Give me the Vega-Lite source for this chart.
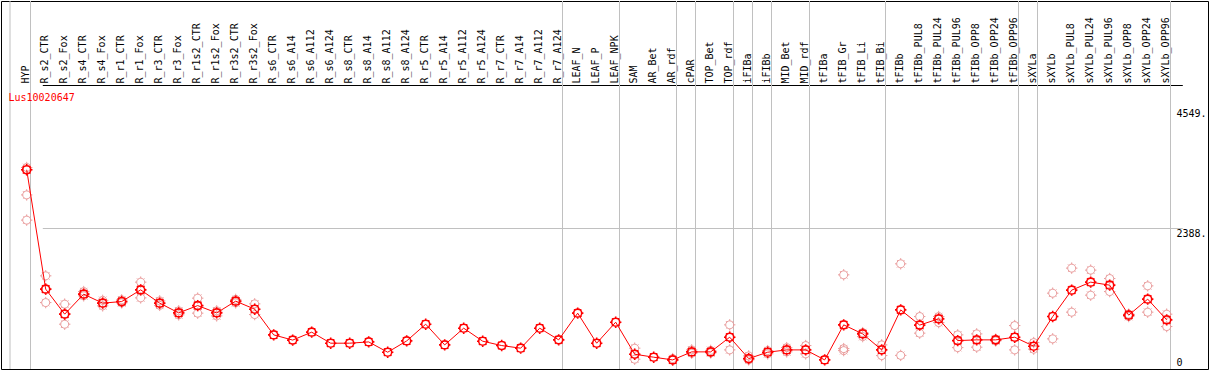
{
  "$schema": "https://vega.github.io/schema/vega-lite/v6.json",
  "width": 1207,
  "height": 368,
  "autosize": {"type": "none"},
  "padding": {"left": 1, "top": 1, "right": 1, "bottom": 1},
  "background": "white",
  "title": {"text": "Lus10020647", "anchor": "start", "frame": "group", "orient": "top", "offset": -110, "baseline": "alphabetic", "dx": 7.5, "color": "#ff0000", "font": "DejaVu Sans Mono", "fontSize": 10, "fontWeight": "normal"},
  "config": {
    "view": {"stroke": "#000000", "strokeWidth": 1},
    "font": "DejaVu Sans Mono"
  },
  "datasets": {
    "means": [
      {"cond": "HYP", "value": 3440}, {"cond": "R_s2_CTR", "value": 1285}, {"cond": "R_s2_Fox", "value": 833},
      {"cond": "R_s4_CTR", "value": 1194}, {"cond": "R_s4_Fox", "value": 1032}, {"cond": "R_r1_CTR", "value": 1061},
      {"cond": "R_r1_Fox", "value": 1272}, {"cond": "R_r3_CTR", "value": 1032}, {"cond": "R_r3_Fox", "value": 856},
      {"cond": "R_r1s2_CTR", "value": 988}, {"cond": "R_r1s2_Fox", "value": 856}, {"cond": "R_r3s2_CTR", "value": 1068},
      {"cond": "R_r3s2_Fox", "value": 923}, {"cond": "R_s6_CTR", "value": 459}, {"cond": "R_s6_A14", "value": 365},
      {"cond": "R_s6_A112", "value": 508}, {"cond": "R_s6_A124", "value": 309}, {"cond": "R_s8_CTR", "value": 309},
      {"cond": "R_s8_A14", "value": 332}, {"cond": "R_s8_A112", "value": 146}, {"cond": "R_s8_A124", "value": 350},
      {"cond": "R_r5_CTR", "value": 652}, {"cond": "R_r5_A14", "value": 278}, {"cond": "R_r5_A112", "value": 580},
      {"cond": "R_r5_A124", "value": 345}, {"cond": "R_r7_CTR", "value": 266}, {"cond": "R_r7_A14", "value": 219},
      {"cond": "R_r7_A112", "value": 580}, {"cond": "R_r7_A124", "value": 369}, {"cond": "LEAF_N", "value": 851},
      {"cond": "LEAF_P", "value": 309}, {"cond": "LEAF_NPK", "value": 688}, {"cond": "SAM", "value": 110},
      {"cond": "AR_Bet", "value": 56}, {"cond": "AR_rdf", "value": 7}, {"cond": "cPAR", "value": 152},
      {"cond": "TOP_Bet", "value": 152}, {"cond": "TOP_rdf", "value": 417}, {"cond": "iFIBa", "value": 31},
      {"cond": "iFIBb", "value": 146}, {"cond": "MID_Bet", "value": 188}, {"cond": "MID_rdf", "value": 188},
      {"cond": "tFIBa", "value": 7}, {"cond": "tFIB_Gr", "value": 640}, {"cond": "tFIB_Li", "value": 477},
      {"cond": "tFIB_Bi", "value": 188}, {"cond": "tFIBb", "value": 911}, {"cond": "tFIBb_PUL8", "value": 636},
      {"cond": "tFIBb_PUL24", "value": 748}, {"cond": "tFIBb_PUL96", "value": 356}, {"cond": "tFIBb_OPP8", "value": 369},
      {"cond": "tFIBb_OPP24", "value": 369}, {"cond": "tFIBb_OPP96", "value": 417}, {"cond": "sXYLa", "value": 255},
      {"cond": "sXYLb", "value": 790}, {"cond": "sXYLb_PUL8", "value": 1267}, {"cond": "sXYLb_PUL24", "value": 1411},
      {"cond": "sXYLb_PUL96", "value": 1357}, {"cond": "sXYLb_OPP8", "value": 815}, {"cond": "sXYLb_OPP24", "value": 1104},
      {"cond": "sXYLb_OPP96", "value": 730}
    ],
    "reps": [
      {"cond": "HYP", "value": 3481}, {"cond": "HYP", "value": 3440}, {"cond": "HYP", "value": 2986}, {"cond": "HYP", "value": 2531},
      {"cond": "R_s2_CTR", "value": 1525}, {"cond": "R_s2_CTR", "value": 1042}, {"cond": "R_s2_CTR", "value": 1285},
      {"cond": "R_s2_Fox", "value": 1014}, {"cond": "R_s2_Fox", "value": 652}, {"cond": "R_s2_Fox", "value": 838},
      {"cond": "R_s4_CTR", "value": 1241}, {"cond": "R_s4_CTR", "value": 1164}, {"cond": "R_s4_CTR", "value": 1200},
      {"cond": "R_s4_Fox", "value": 1082}, {"cond": "R_s4_Fox", "value": 983}, {"cond": "R_s4_Fox", "value": 1037},
      {"cond": "R_r1_CTR", "value": 1091}, {"cond": "R_r1_CTR", "value": 1037}, {"cond": "R_r1_CTR", "value": 1055},
      {"cond": "R_r1_Fox", "value": 1411}, {"cond": "R_r1_Fox", "value": 1127}, {"cond": "R_r1_Fox", "value": 1272},
      {"cond": "R_r3_CTR", "value": 1073}, {"cond": "R_r3_CTR", "value": 992}, {"cond": "R_r3_CTR", "value": 1028},
      {"cond": "R_r3_Fox", "value": 893}, {"cond": "R_r3_Fox", "value": 820}, {"cond": "R_r3_Fox", "value": 856},
      {"cond": "R_r1s2_CTR", "value": 1122}, {"cond": "R_r1s2_CTR", "value": 851}, {"cond": "R_r1s2_CTR", "value": 988},
      {"cond": "R_r1s2_Fox", "value": 893}, {"cond": "R_r1s2_Fox", "value": 802}, {"cond": "R_r1s2_Fox", "value": 865},
      {"cond": "R_r3s2_CTR", "value": 1100}, {"cond": "R_r3s2_CTR", "value": 1037}, {"cond": "R_r3s2_CTR", "value": 1068},
      {"cond": "R_r3s2_Fox", "value": 1019}, {"cond": "R_r3s2_Fox", "value": 826}, {"cond": "R_r3s2_Fox", "value": 923},
      {"cond": "SAM", "value": 219}, {"cond": "SAM", "value": 20}, {"cond": "SAM", "value": 110},
      {"cond": "AR_rdf", "value": 31}, {"cond": "AR_rdf", "value": 0},
      {"cond": "cPAR", "value": 188}, {"cond": "cPAR", "value": 128},
      {"cond": "TOP_Bet", "value": 179}, {"cond": "TOP_Bet", "value": 134},
      {"cond": "TOP_rdf", "value": 640}, {"cond": "TOP_rdf", "value": 188}, {"cond": "TOP_rdf", "value": 417},
      {"cond": "iFIBa", "value": 79}, {"cond": "iFIBa", "value": 7},
      {"cond": "iFIBb", "value": 175}, {"cond": "iFIBb", "value": 116},
      {"cond": "MID_Bet", "value": 229}, {"cond": "MID_Bet", "value": 152},
      {"cond": "MID_rdf", "value": 266}, {"cond": "MID_rdf", "value": 116},
      {"cond": "tFIB_Gr", "value": 1543}, {"cond": "tFIB_Gr", "value": 211}, {"cond": "tFIB_Gr", "value": 175},
      {"cond": "tFIB_Li", "value": 500}, {"cond": "tFIB_Li", "value": 428},
      {"cond": "tFIB_Bi", "value": 278}, {"cond": "tFIB_Bi", "value": 85},
      {"cond": "tFIBb", "value": 1742}, {"cond": "tFIBb", "value": 89},
      {"cond": "tFIBb_PUL8", "value": 790}, {"cond": "tFIBb_PUL8", "value": 490},
      {"cond": "tFIBb_PUL24", "value": 790}, {"cond": "tFIBb_PUL24", "value": 681},
      {"cond": "tFIBb_PUL96", "value": 459}, {"cond": "tFIBb_PUL96", "value": 229},
      {"cond": "tFIBb_OPP8", "value": 477}, {"cond": "tFIBb_OPP8", "value": 237},
      {"cond": "tFIBb_OPP24", "value": 381}, {"cond": "tFIBb_OPP24", "value": 350},
      {"cond": "tFIBb_OPP96", "value": 627}, {"cond": "tFIBb_OPP96", "value": 188},
      {"cond": "sXYLa", "value": 320}, {"cond": "sXYLa", "value": 201},
      {"cond": "sXYLb", "value": 1212}, {"cond": "sXYLb", "value": 387},
      {"cond": "sXYLb_PUL8", "value": 1664}, {"cond": "sXYLb_PUL8", "value": 869},
      {"cond": "sXYLb_PUL24", "value": 1628}, {"cond": "sXYLb_PUL24", "value": 1176},
      {"cond": "sXYLb_PUL96", "value": 1476}, {"cond": "sXYLb_PUL96", "value": 1241},
      {"cond": "sXYLb_OPP8", "value": 833}, {"cond": "sXYLb_OPP8", "value": 790},
      {"cond": "sXYLb_OPP24", "value": 1344}, {"cond": "sXYLb_OPP24", "value": 869},
      {"cond": "sXYLb_OPP96", "value": 833}, {"cond": "sXYLb_OPP96", "value": 609}
    ]
  },
  "encoding": {
    "x": {
      "field": "cond",
      "type": "nominal",
      "scale": {
        "type": "point",
        "padding": 0,
        "range": [25.7, 1165.7],
        "domain": ["HYP", "R_s2_CTR", "R_s2_Fox", "R_s4_CTR", "R_s4_Fox", "R_r1_CTR", "R_r1_Fox", "R_r3_CTR", "R_r3_Fox", "R_r1s2_CTR", "R_r1s2_Fox", "R_r3s2_CTR", "R_r3s2_Fox", "R_s6_CTR", "R_s6_A14", "R_s6_A112", "R_s6_A124", "R_s8_CTR", "R_s8_A14", "R_s8_A112", "R_s8_A124", "R_r5_CTR", "R_r5_A14", "R_r5_A112", "R_r5_A124", "R_r7_CTR", "R_r7_A14", "R_r7_A112", "R_r7_A124", "LEAF_N", "LEAF_P", "LEAF_NPK", "SAM", "AR_Bet", "AR_rdf", "cPAR", "TOP_Bet", "TOP_rdf", "iFIBa", "iFIBb", "MID_Bet", "MID_rdf", "tFIBa", "tFIB_Gr", "tFIB_Li", "tFIB_Bi", "tFIBb", "tFIBb_PUL8", "tFIBb_PUL24", "tFIBb_PUL96", "tFIBb_OPP8", "tFIBb_OPP24", "tFIBb_OPP96", "sXYLa", "sXYLb", "sXYLb_PUL8", "sXYLb_PUL24", "sXYLb_PUL96", "sXYLb_OPP8", "sXYLb_OPP24", "sXYLb_OPP96"]
      },
      "axis": {
        "orient": "top",
        "title": null,
        "domain": false,
        "ticks": false,
        "tickSize": 0,
        "grid": false,
        "labelAngle": 270,
        "labelAlign": "left",
        "labelBaseline": "middle",
        "labelPadding": -82,
        "labelOffset": -1.5,
        "labelOverlap": false,
        "labelBound": false,
        "labelFlush": false,
        "labelFont": "DejaVu Sans Mono",
        "labelFontSize": 10,
        "labelColor": "#000000"
      }
    }
  },
  "layer": [
    {
      "data": {"values": [
        {"cond": "HYP"}, {"cond": "R_r7_A124"}, {"cond": "LEAF_NPK"}, {"cond": "AR_rdf"}, {"cond": "cPAR"},
        {"cond": "TOP_rdf"}, {"cond": "iFIBa"}, {"cond": "iFIBb"}, {"cond": "MID_rdf"}, {"cond": "tFIB_Bi"},
        {"cond": "tFIBb_OPP96"}, {"cond": "sXYLa"}, {"cond": "sXYLb_OPP96"}
      ]},
      "mark": {"type": "rule", "color": "#c0c0c0", "strokeWidth": 1, "xOffset": 3.8}
    },
    {
      "data": {"values": [{"cond": "HYP"}]},
      "mark": {"type": "rule", "color": "#c0c0c0", "strokeWidth": 1, "xOffset": -16.7}
    },
    {
      "encoding": {
        "y": {
          "field": "value",
          "type": "quantitative",
          "scale": {"domain": [-157, 6487], "nice": false, "zero": false},
          "axis": {
            "orient": "right",
            "title": null,
            "values": [0, 2388, 4549, 4970],
            "domain": false,
            "ticks": false,
            "tickSize": 0,
            "grid": true,
            "gridColor": {"condition": {"test": "datum.value == 4970", "value": "#000000"}, "value": "#c0c0c0"},
            "gridOpacity": {"condition": {"test": "datum.value == 0 || datum.value == 4549", "value": 0}, "value": 1},
            "gridWidth": 1,
            "labelExpr": "datum.value == 4970 ? '' : (datum.value == 0 ? '0' : datum.value + '.')",
            "labelAlign": "left",
            "labelBaseline": {"condition": {"test": "datum.value == 0", "value": "middle"}, "value": "top"},
            "labelOffset": {"condition": {"test": "datum.value == 0", "value": 2.5}, "value": 0},
            "labelPadding": -32,
            "labelOverlap": false,
            "labelBound": false,
            "labelFlush": false,
            "labelFont": "DejaVu Sans Mono",
            "labelFontSize": 10,
            "labelColor": "#000000"
          }
        }
      },
      "layer": [
        {
          "data": {"name": "reps"},
          "mark": {"type": "point", "filled": false, "shape": "M0.667,0A0.667,0.667,0,1,1,-0.667,0A0.667,0.667,0,1,1,0.667,0M0,-0.667L0,-0.95M0,0.667L0,0.95M-0.667,0L-0.95,0M0.667,0L0.95,0M0.47,0.47L0.62,0.62M-0.47,0.47L-0.62,0.62M0.47,-0.47L0.62,-0.62M-0.47,-0.47L-0.62,-0.62", "size": 144, "color": "#e99a9a", "strokeWidth": 1, "opacity": 1}
        },
        {
          "data": {"name": "means"},
          "mark": {"type": "line", "color": "#ff0000", "strokeWidth": 1}
        },
        {
          "data": {"name": "means"},
          "mark": {"type": "point", "filled": false, "shape": "M0.667,0A0.667,0.667,0,1,1,-0.667,0A0.667,0.667,0,1,1,0.667,0M0,-0.667L0,-0.95M0,0.667L0,0.95M-0.667,0L-0.95,0M0.667,0L0.95,0M0.47,0.47L0.62,0.62M-0.47,0.47L-0.62,0.62M0.47,-0.47L0.62,-0.62M-0.47,-0.47L-0.62,-0.62", "size": 144, "color": "#ff0000", "strokeWidth": 1.6, "opacity": 1}
        }
      ]
    }
  ]
}
